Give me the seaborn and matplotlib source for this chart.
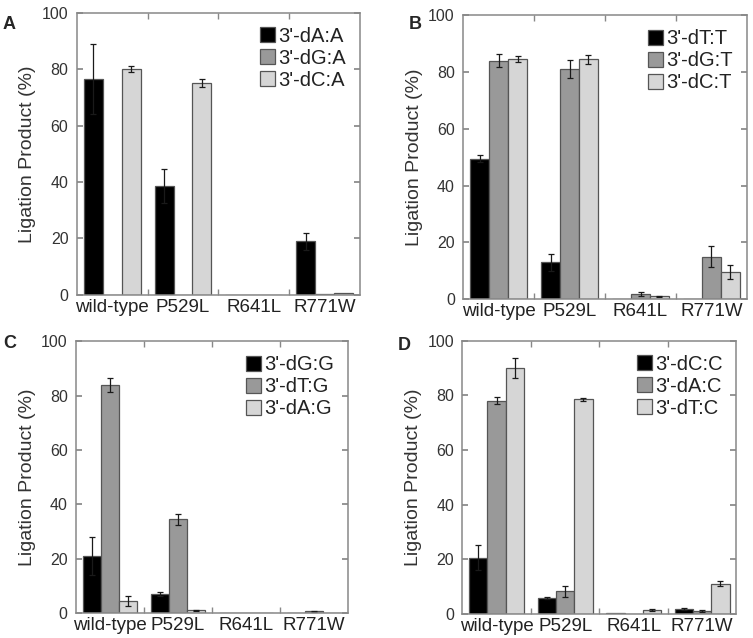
import numpy as np
import pandas as pd
import matplotlib
matplotlib.use('Agg')
import matplotlib.pyplot as plt
import seaborn as sns

# mutants along the x axis
mutants = ['wild-type', 'P529L', 'R641L', 'R771W']

# Panel A: mismatches opposite template A
pairs_a = ["3'-dA:A", "3'-dG:A", "3'-dC:A"]
vals_a = [[76.5, 38.5, 0.0, 19.0],
          [0.0, 0.0, 0.0, 0.1],
          [80.0, 75.0, 0.0, 0.5]]
errs_a = [[12.5, 6.0, 0.0, 3.0],
          [0.0, 0.0, 0.0, 0.0],
          [1.0, 1.5, 0.0, 0.0]]

# Panel B: template T
pairs_b = ["3'-dT:T", "3'-dG:T", "3'-dC:T"]
vals_b = [[49.5, 13.0, 0.0, 0.0],
          [84.0, 81.0, 1.8, 15.0],
          [84.7, 84.5, 1.0, 9.5]]
errs_b = [[1.2, 3.0, 0.0, 0.0],
          [2.2, 3.2, 0.8, 3.8],
          [1.0, 1.6, 0.3, 2.5]]

# Panel C: template G
pairs_c = ["3'-dG:G", "3'-dT:G", "3'-dA:G"]
vals_c = [[21.0, 7.0, 0.0, 0.2],
          [84.0, 34.5, 0.0, 0.7],
          [4.5, 1.0, 0.0, 0.0]]
errs_c = [[7.0, 0.8, 0.0, 0.0],
          [2.5, 2.0, 0.0, 0.2],
          [1.8, 0.3, 0.0, 0.0]]

# Panel D: template C
pairs_d = ["3'-dC:C", "3'-dA:C", "3'-dT:C"]
vals_d = [[20.5, 5.8, 0.2, 1.8],
          [78.0, 8.2, 0.0, 1.0],
          [90.0, 78.5, 1.5, 11.0]]
errs_d = [[4.5, 0.3, 0.0, 0.3],
          [1.2, 2.0, 0.0, 0.2],
          [3.5, 0.5, 0.4, 1.0]]

bar_colors = ['#000000', '#999999', '#d6d6d6']

sns.set_theme(style='white')
plt.rcParams['font.family'] = ['Liberation Sans', 'DejaVu Sans']

fig = plt.figure(figsize=(7.53, 6.38), dpi=100)

# letter, data, axes rect, letter position
panels = [
    ('A', pairs_a, vals_a, errs_a, [0.102, 0.538, 0.376, 0.442], (0.004, 0.975)),
    ('B', pairs_b, vals_b, errs_b, [0.615, 0.531, 0.377, 0.445], (0.543, 0.975)),
    ('C', pairs_c, vals_c, errs_c, [0.101, 0.039, 0.361, 0.426], (0.004, 0.475)),
    ('D', pairs_d, vals_d, errs_d, [0.614, 0.038, 0.364, 0.428], (0.528, 0.472)),
]

for letter, pairs, vals, errs, rect, lpos in panels:
    ax = fig.add_axes(rect)
    rows = []
    for p, vs in zip(pairs, vals):
        for m, v in zip(mutants, vs):
            rows.append({'mutant': m, 'pair': p, 'value': v})
    df = pd.DataFrame(rows)
    sns.barplot(data=df, x='mutant', y='value', hue='pair', order=mutants,
                hue_order=pairs, palette=bar_colors, edgecolor='#555555',
                linewidth=0.9, errorbar=None, ax=ax)

    # error bars on top of each bar container
    for cont, es in zip(ax.containers, errs):
        xs = [b.get_x() + b.get_width() / 2 for b in cont]
        ys = [b.get_height() for b in cont]
        e = np.array(es)
        mask = e > 0
        ax.errorbar(np.array(xs)[mask], np.array(ys)[mask], yerr=e[mask],
                    fmt='none', ecolor='#1a1a1a', elinewidth=0.9,
                    capsize=2.2, capthick=0.9)

    ax.set_ylim(0, 100)
    ax.set_xlim(-0.5, 3.5)
    ax.set_yticks([0, 20, 40, 60, 80, 100])
    ax.set_xlabel('')
    ax.set_ylabel('Ligation Product (%)', fontsize=14, color='#333333')
    ax.set_xticks([0.5, 1.5, 2.5], minor=True)
    ax.tick_params(axis='x', which='major', length=0, labelsize=13.5,
                   labelcolor='#222222', pad=3)
    ax.tick_params(axis='x', which='minor', direction='in', length=4,
                   top=True, bottom=True, color='#888888')
    ax.tick_params(axis='y', direction='in', length=4, left=True, right=True,
                   labelsize=11.5, labelcolor='#333333', color='#888888', pad=6)
    for s in ax.spines.values():
        s.set_color('#888888')
        s.set_linewidth(1.1)

    leg = ax.legend(loc='upper right', frameon=False, fontsize=14.5,
                    handlelength=0.75, handleheight=0.75, handletextpad=0.15,
                    labelspacing=0.15, borderaxespad=0.3)
    for t in leg.get_texts():
        t.set_color('#222222')

    fig.text(lpos[0], lpos[1], letter, fontsize=13, fontweight='bold',
             va='top', ha='left')

fig.savefig('out.png', dpi=100)
